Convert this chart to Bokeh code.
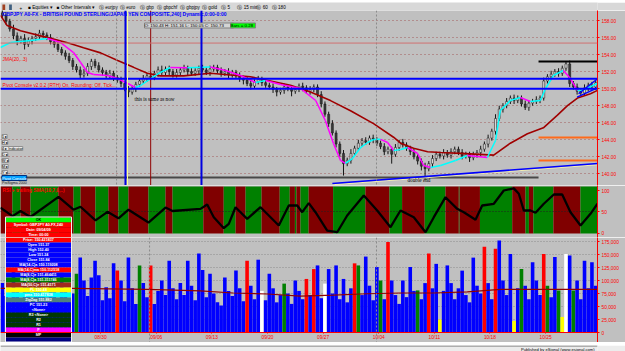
from bokeh.plotting import figure
from bokeh.layouts import column
from bokeh.models import (Range1d, FixedTicker, NumeralTickFormatter, PrintfTickFormatter,
                          Span, Label, ColumnDataSource)
from bokeh.embed import file_html
from bokeh.resources import INLINE

# ---------------------------------------------------------------- data
N_BARS = 161
closes = [158.6,157.9,157.0,156.2,155.6,155.9,155.2,155.6,155.9,156.1,
          156.5,156.3,156.0,155.5,155.2,154.6,154.2,153.8,153.3,152.6,
          152.2,151.6,151.8,152.6,153.2,152.7,152.2,151.9,151.5,151.8,
          151.3,151.0,150.6,150.0,149.6,150.0,150.5,150.9,151.2,151.5,
          151.3,151.8,152.2,151.9,152.3,152.0,151.6,151.9,152.2,152.4,
          152.0,151.8,152.1,152.4,152.2,151.9,152.3,152.5,152.1,151.8,
          152.0,151.6,151.9,151.5,151.2,151.0,150.6,150.3,150.8,151.1,
          150.7,150.4,150.2,149.9,149.6,149.8,150.2,150.0,149.7,149.9,
          150.3,150.1,149.7,149.9,150.2,149.3,148.2,147.0,145.9,144.8,
          143.5,142.4,141.2,141.6,142.4,143.0,143.6,143.9,143.7,144.2,
          144.0,143.6,143.2,142.6,142.9,142.3,143.1,143.7,143.4,143.0,
          142.6,142.0,141.5,140.9,140.6,141.2,141.8,142.3,142.1,142.5,
          142.2,142.6,142.9,142.5,142.1,142.3,141.9,142.2,142.5,142.9,
          143.5,144.2,145.0,146.5,147.6,148.0,148.5,148.9,148.6,148.9,
          148.2,147.8,148.3,148.5,148.7,148.9,150.9,151.4,151.7,152.0,
          151.8,152.4,152.9,150.6,150.2,149.7,149.5,150.1,150.4,150.2,
          150.7]
first_open = 158.9
wick_up = [0.6,0.4,0.3,0.5,0.4,0.3,0.5,0.4,0.3,0.4,
           0.4,0.3,0.3,0.4,0.3,0.4,0.3,0.3,0.4,0.3,
           0.3,0.4,0.5,0.4,0.3,0.3,0.4,0.3,0.3,0.4,
           0.3,0.3,0.4,0.3,0.3,0.4,0.3,0.3,0.4,0.3,
           0.4,0.3,0.4,0.5,0.3,0.4,0.3,0.4,0.3,0.4,
           0.3,0.5,0.3,0.3,0.4,0.3,0.4,0.3,0.3,0.4,
           0.3,0.4,0.3,0.3,0.4,0.3,0.4,0.5,0.3,0.4,
           0.3,0.4,0.3,0.4,0.3,0.3,0.4,0.3,0.4,0.3,
           0.3,0.4,0.3,0.4,0.3,0.3,0.4,0.3,0.3,0.4,
           0.3,0.3,0.4,0.3,0.5,0.3,0.4,0.3,0.4,0.3,
           0.4,0.3,0.3,0.4,0.3,0.3,0.4,0.3,0.4,0.3,
           0.3,0.4,0.3,0.3,0.4,0.3,0.4,0.3,0.3,0.4,
           0.3,0.4,0.3,0.3,0.4,0.3,0.3,0.4,0.3,0.4,
           0.3,0.4,0.3,0.5,0.4,0.3,0.4,0.3,0.4,0.3,
           0.3,0.4,0.3,0.3,0.4,0.3,0.4,0.3,0.4,0.3,
           0.4,0.3,0.3,0.4,0.3,0.4,0.3,0.4,0.3,0.4,
           0.3]
wick_dn = [0.3,0.4,0.3,0.4,0.5,0.3,0.6,0.3,0.4,0.3,
           0.3,0.4,0.3,0.3,0.4,0.3,0.3,0.4,0.3,0.4,
           0.3,0.4,0.3,0.3,0.4,0.3,0.3,0.4,0.3,0.3,
           0.4,0.3,0.4,0.3,0.6,0.3,0.4,0.3,0.3,0.4,
           0.3,0.3,0.4,0.3,0.3,0.4,0.3,0.3,0.4,0.3,
           0.4,0.3,0.3,0.4,0.3,0.3,0.4,0.3,0.3,0.4,
           0.3,0.4,0.3,0.3,0.4,0.5,0.3,0.4,0.3,0.3,
           0.4,0.3,0.3,0.4,0.5,0.3,0.4,0.3,0.6,0.3,
           0.3,0.4,0.3,0.4,0.3,0.3,0.4,0.3,0.4,0.3,
           0.4,0.4,1.4,0.3,0.4,0.3,0.3,0.4,0.3,0.3,
           0.4,0.3,0.3,0.4,0.3,1.1,0.3,0.4,0.3,0.3,
           0.4,0.3,0.4,0.5,1.3,0.3,0.4,0.3,0.3,0.4,
           0.3,0.4,0.3,0.3,0.4,0.3,0.5,0.3,0.3,0.4,
           0.3,0.4,0.3,0.4,0.3,0.4,0.3,0.3,0.4,0.3,
           0.3,0.3,0.4,0.3,0.3,0.4,0.3,0.3,0.4,0.3,
           0.4,0.3,0.3,0.4,0.3,0.4,0.3,0.3,0.4,0.3,
           0.3]

slow_ma_x = [0, 1.8, 5.4, 13.5, 18.1, 22.4, 27.0, 31.6, 35.9, 39.6, 43.1, 49.4, 56.6, 67.4,
             78.2, 83.6, 89.0, 94.4, 100.6, 106.0, 107.9, 111.4, 115.2, 118.7, 124.1, 133.0,
             137.5, 142.1, 146.4, 150.2, 152.9, 155.6, 159.1, 161]
slow_ma_y = [158.6, 157.4, 156.8, 155.9, 155.4, 154.8, 154.2, 153.3, 152.5, 151.8, 151.5, 151.5,
             151.8, 151.4, 150.4, 149.6, 148.6, 147.4, 145.9, 144.3, 143.6, 143.0, 142.6, 142.5,
             142.4, 142.2, 143.6, 144.7, 145.4, 146.9, 148.0, 148.9, 149.4, 149.8]

fast_ma_x = [0, 2.7, 8.1, 12.7, 16.2, 19.7, 21.6, 23.5, 25.1, 28.9, 31.6, 34.3, 36.4, 37.8, 40.5,
             43.1, 45.8, 50.4, 56.6, 60.7, 64.7, 68.8, 71.5, 75.5, 80.9, 85.0, 87.6, 89.8, 91.7,
             93.0, 94.9, 97.1, 99.0, 100.6, 102.5, 104.4, 106.0, 107.9, 109.8, 112.5, 114.1,
             116.0, 118.7, 122.7, 125.9, 131.3, 133.5, 134.8, 137.5, 140.2, 142.9, 145.6, 147.0,
             149.1, 151.8, 153.7, 155.6, 157.2, 161]
fast_ma_y = [154.83, 155.42, 155.65, 155.89, 155.42, 154.24, 153.07, 151.90, 151.66, 151.54,
             151.19, 150.61, 150.14, 150.37, 151.19, 151.90, 152.48, 152.45, 152.55, 152.13,
             151.54, 150.72, 150.96, 150.49, 150.02, 148.61, 146.26, 143.56, 141.57, 141.22,
             141.80, 143.09, 143.68, 144.03, 144.05, 143.68, 142.74, 142.86, 143.09, 142.39,
             140.98, 140.75, 140.98, 141.57, 142.15, 141.92, 143.92, 147.44, 148.61, 148.96,
             148.49, 148.61, 150.02, 151.54, 152.13, 151.19, 149.78, 149.85, 150.61]

pivot_blue = [151.16, 149.98]
level_pink = 155.35
level_grey = 139.57
level_black = 153.19
level_orange = [144.27, 141.57]
levels_split_bar = 145.1
trend_x = [89.5, 161.0]
trend_y = [138.87, 141.22]
wedge_a_x, wedge_a_y = [155.5, 161.0], [149.0, 150.1]
wedge_b_x, wedge_b_y = [155.9, 161.0], [149.4, 151.16]
marker_bars_blue = [33.7, 54.2]
marker_bar_red = 40.5
month_bars = [31.3, 101.4]

rsi_x = [0, 3.24, 5.39, 8.09, 15.64, 19.69, 21.57, 25.62, 28.86, 31.82, 34.52, 39.91, 44.5,
         46.39, 53.94, 55.74, 57.52, 60.22, 61.57, 63.38, 66.53, 70.12, 75.05, 77.75, 80.02,
         81.36, 83.14, 84.95, 88.11, 90.80, 93.50, 97.98, 101.59, 105.18, 107.87, 111.46,
         114.62, 116.86, 120.01, 123.17, 124.95, 128.10, 129.91, 133.04, 135.73, 138.43,
         139.78, 141.13, 142.93, 144.28, 146.52, 149.22, 151.48, 153.72, 156.42, 159.11, 161.0]
rsi_v = [60, 40, 52, 38, 85, 55, 62, 30, 50, 35, 55, 25, 60, 52, 57, 67, 37.5, 11.7, 22, 60.9,
         33.7, 60.9, 18, 64.9, 64.9, 49.2, 70.3, 49.2, 6.3, 2.3, 41.5, 88.3, 53.2, 14.1, 53.2,
         37.5, 2.3, 37.5, 84.3, 57.1, 49.2, 31.4, 64.9, 68.9, 100, 105, 92.3, 53.2, 53.2, 47.8,
         68.9, 90.6, 90.6, 49.2, 18, 45.4, 68.9]
band_edges = [0, 3.2, 5.4, 8.1, 15.6, 19.7, 21.6, 25.6, 29.1, 31.8, 34.5, 39.9, 44.5, 46.4,
              54.7, 60.2, 63.4, 66.1, 70.4, 75.3, 78.0, 79.4, 79.8, 80.9, 83.1, 89.7, 98.4,
              104.9, 108.3, 114.4, 120.0, 123.6, 123.8, 129.3, 138.0, 141.6, 142.5, 143.7,
              149.1, 156.4, 161]
band_first = "down"

volume_k = [95,70,60,120,80,65,130,90,60,110,
            140,75,65,125,95,60,115,85,65,75,
            113,144,100,70,106,138,110,62,87,66,
            133,119,100,60,144,85,55,129,95,68,
            129,55,80,100,72,138,85,64,95,72,
            138,90,62,152,120,68,113,75,58,52,
            106,80,70,119,85,60,138,90,64,140,
            80,62,113,85,58,72,94,75,55,100,
            80,64,103,72,122,129,66,94,122,75,
            129,64,103,58,85,133,129,72,146,90,
            62,126,100,64,174,100,72,55,100,68,
            126,80,81,64,95,152,85,132,25,80,
            129,95,64,85,119,72,58,144,90,75,
            165,95,64,161,177,100,72,151,22,85,
            122,90,64,135,100,72,151,90,68,145,
            81,30,151,148,81,100,64,138,85,135,
            90]
volume_codes = ("BBBBBBBBBB" "BBBBBBBBBB" "GBBBBBBBBB" "BRBBBBBGBB" "RBBBBBBBBB"
                "BBBBBBBBBB" "BBBBBBRBBB" "WBBBBBGBBB" "BBRBRBBWBB" "BBBBBRGBBB"
                "BBGBRBBBBB" "BBGBBRBBYB" "BBBBBBBBBB" "RBBRBBBBYB" "GBBBBBRGBB"
                "GYWBGBBBBB" "B")
vol_ma_x = [0, 18.9, 39.6, 53.9, 62.8, 72.0, 80.9, 89.8, 99.0, 107.9, 116.8, 125.9, 134.8,
            143.7, 152.9, 161]
vol_ma_k = [85, 85, 83, 80, 76, 74, 70, 72, 74.5, 76, 76, 78, 83, 83, 83, 83]

week_ticks = [27, 42, 57, 72, 87, 102, 117, 132, 147]
week_labels = ["08/30", "09/06", "09/13", "09/20", "09/27", "10/04", "10/11", "10/18", "10/25"]
price_ticks = [140, 142, 144, 146, 148, 150, 152, 154, 156, 158]
rsi_ticks = [0, 50, 100]
vol_ticks = [0, 25000, 50000, 75000, 100000, 125000, 150000, 175000]

data_window = [
    ("OK", "#00ff00", "#000000"),
    ("Symbol: GBPJPY A0-FX,240", "#ff0000", "#ffffff"),
    ("Date: 09/04/09", "#ff0000", "#ffffff"),
    ("Time: 00:00", "#ff0000", "#ffffff"),
    ("Price: 150.421837", "#ff0000", "#ffffff"),
    ("Open 151.37", "#0000ff", "#ffffff"),
    ("High 152.40", "#0000ff", "#ffffff"),
    ("Low 151.24", "#0000ff", "#ffffff"),
    ("Close 151.84", "#0000ff", "#ffffff"),
    ("MA(14,C)a 150.119208", "#0000ff", "#ffffff"),
    ("MA(14,C)ma 150.112518", "#ff0000", "#ffffff"),
    ("MA(8,C)e 151.464411", "#0000ff", "#ffffff"),
    ("MA(8,C)a 151.311746", "#008000", "#ffffff"),
    ("MA(50,C)e 151.4171", "#a0281e", "#ffffff"),
    ("PL 150.48", "#ffff00", "#ffffff"),
    ("pma 150.417838", "#00ffff", "#ffffff"),
    ("ZigZag 151.882", "#4f7f7f", "#ffffff"),
    ("PC 151.23", "#0000ff", "#ffffff"),
    ("<None>", "#0000ff", "#ffffff"),
    ("R3 <None>", "#003800", "#ffffff"),
    ("R2", "#003800", "#ffffff"),
    ("R1", "#003800", "#ffffff"),
    ("P", "#ff00ff", "#ffffff"),
    ("MP", "#000000", "#ffffff"),
    ("", "#000080", "#ffffff"),
]

# ---------------------------------------------------------------- geometry helpers
FRAME_W = 597
AXIS_W = 28
BG = "#c0c0c0"
FONT = "Liberation Sans"
RED = "#ff0000"


def bx(px):
    return px * N_BARS / FRAME_W


def price_at(y):
    return 158.0 - (y - 20.0) / 8.52


def rsi_at(y):
    return (232.7 - y) / 0.427


def vol_at(y):
    return (332.0 - y) * 1923.1


xr = Range1d(0, N_BARS)


def panel(height, yr, xloc=None):
    f = figure(width=625, height=height, x_range=xr, y_range=yr, output_backend="svg",
               toolbar_location=None, x_axis_location=xloc, y_axis_location="right",
               min_border_left=0, min_border_right=AXIS_W, min_border_top=0, min_border_bottom=0,
               background_fill_color=BG, border_fill_color=BG, outline_line_color=None)
    f.xgrid.visible = False
    ax = f.yaxis[0]
    ax.axis_line_color = RED
    ax.major_tick_line_color = RED
    ax.minor_tick_line_color = None
    ax.major_tick_out = 2
    ax.major_tick_in = 0
    ax.major_label_standoff = 2
    ax.major_label_text_color = RED
    ax.major_label_text_font = FONT
    ax.major_label_text_font_size = "4.8px"
    return f


def label(f, x, y, text, size="4.8px", color="#000000", style="normal", bg=None, border=None,
          align="left", baseline="middle", font=FONT):
    f.add_layout(Label(x=x, y=y, text=text, text_font_size=size, text_color=color,
                       text_font_style=style, background_fill_color=bg, border_line_color=border,
                       text_align=align, text_baseline=baseline, text_font=font))


# ---------------------------------------------------------------- toolbar
tb = figure(width=625, height=10, x_range=Range1d(0, 625), y_range=Range1d(0, 10),
            output_backend="svg", toolbar_location=None, x_axis_location=None, y_axis_location=None,
            min_border=0, background_fill_color="#d8d8d8", border_fill_color="#d8d8d8",
            outline_line_color=None)
tb.xgrid.visible = False
tb.ygrid.visible = False
for xx, col in [(2, "#a04020"), (9, "#406080")]:
    tb.add_layout(Label(x=xx, y=5, text="  ", text_font_size="5px", background_fill_color=col,
                        text_baseline="middle"))
tool_items = [(20, "+"), (29, "\u25a0 Equities \u25be"), (59, "\u25a0 Other Intervals \u25be"),
              (103, "\u24c8 eurjpy"), (125, "\u24c8 euro"), (146, "\u24c8 gbp"), (164, "\u24c8 gbpchf"),
              (188, "\u24c8 gbpjpy"), (211, "\u24c8 gold"), (231, "\u24c8 5"), (248, "\u24c8 15 min"),
              (268, "\u24c8 60"), (284, "\u24c8 180")]
for xx, t in tool_items:
    tb.add_layout(Label(x=xx, y=5, text=t, text_font_size="4.6px", text_color="#000000",
                        text_baseline="middle", text_font=FONT))

# ---------------------------------------------------------------- price panel
pp = panel(175, Range1d(price_at(185), price_at(10)))
pp.yaxis.ticker = FixedTicker(ticks=price_ticks)
pp.yaxis.formatter = PrintfTickFormatter(format="%.2f")
pp.ygrid.ticker = FixedTicker(ticks=price_ticks)
pp.ygrid.grid_line_color = "#a05050"
pp.ygrid.grid_line_dash = "1 3"
pp.ygrid.grid_line_alpha = 0.9

for b in month_bars:
    pp.add_layout(Span(location=b, dimension="height", line_color="#8a8a8a", line_dash="2 2",
                       line_width=1))
pp.add_layout(Span(location=marker_bar_red, dimension="height", line_color="#900000", line_width=1))
pp.add_layout(Span(location=level_pink, dimension="width", line_color="#d07070", line_width=1))

opens = [first_open] + closes[:-1]
tops = [max(o, c) for o, c in zip(opens, closes)]
bots = [min(o, c) for o, c in zip(opens, closes)]
csrc = ColumnDataSource(dict(
    x=[i + 0.5 for i in range(N_BARS)], top=tops, bottom=bots,
    high=[t + w for t, w in zip(tops, wick_up)], low=[b - w for b, w in zip(bots, wick_dn)],
    fill=["#d8d8d8" if c >= o else "#3a3a3a" for o, c in zip(opens, closes)]))
pp.segment(x0="x", y0="low", x1="x", y1="high", source=csrc, line_color="#151515", line_width=1)
pp.vbar(x="x", top="top", bottom="bottom", width=0.55, source=csrc, fill_color="fill",
        line_color="#151515", line_width=0.5)

pp.line(slow_ma_x, slow_ma_y, line_color="#a00000", line_width=1.6)
fx0, fy0, fx1, fy1, fcol = [], [], [], [], []
for i in range(len(fast_ma_x) - 1):
    fx0.append(fast_ma_x[i]); fy0.append(fast_ma_y[i])
    fx1.append(fast_ma_x[i + 1]); fy1.append(fast_ma_y[i + 1])
    fcol.append("#00ffff" if fast_ma_y[i + 1] > fast_ma_y[i] else "#ff00ff")
pp.segment(x0=fx0, y0=fy0, x1=fx1, y1=fy1, line_color=fcol, line_width=1.5)

for lv in pivot_blue:
    pp.add_layout(Span(location=lv, dimension="width", line_color="#0000ff", line_width=2))
pp.segment(x0=[0], y0=[level_grey], x1=[levels_split_bar], y1=[level_grey],
           line_color="#484848", line_width=2)
pp.segment(x0=[levels_split_bar], y0=[level_black], x1=[N_BARS], y1=[level_black],
           line_color="#000000", line_width=2)
pp.segment(x0=[levels_split_bar] * 2, y0=level_orange, x1=[N_BARS] * 2, y1=level_orange,
           line_color="#ff6a1a", line_width=2)
pp.line([trend_x[0], trend_x[1]], [trend_y[0] - 0.15, trend_y[1] - 0.15], line_color="#f4f0b0",
        line_width=1)
pp.line(trend_x, trend_y, line_color="#0000ff", line_width=1.6)
pp.line(wedge_a_x, wedge_a_y, line_color="#0000ff", line_width=1.4)
pp.line(wedge_b_x, wedge_b_y, line_color="#0000ff", line_width=1.4)

pp.add_layout(Span(location=bx(127), dimension="height", line_color="#ffff90", line_width=1))
for b in marker_bars_blue:
    pp.add_layout(Span(location=b, dimension="height", line_color="#0000e0", line_width=2))

label(pp, bx(2), price_at(13.5),
      "GBPJPY A0-FX - BRITISH POUND STERLING/JAPAN YEN COMPOSITE,240] Dynamic,0:00-0:00",
      size="5px", color="#0000ff", style="bold")
label(pp, bx(2), price_at(59), "JMA(20,..3)", size="4.8px", color=RED)
label(pp, bx(2), price_at(85), "Pivot Console v2.0.2 (RTH) On, Rounding: Off, Tick...",
      size="4.8px", color=RED)
label(pp, bx(134), price_at(98), "this is same as now", size="5.2px", font="Liberation Serif")
label(pp, bx(407), price_at(179.5), "double end", size="5.2px", font="Liberation Serif")
label(pp, bx(144), price_at(25), " O: 150.43   H: 151.16   L: 150.05   C: 150.73 ", size="4.4px",
      bg="#d4d4d4", border="#808080")
label(pp, bx(230), price_at(25), " Bars = 0.28 ", size="4.4px", bg="#00ff00", border="#808080")
for i, t in enumerate(["1 \u25b8", "H \u25b8", "4 \u25b8 Indicator", "D \u25b8", "W \u25b8",
                       "M \u25b8", "Y \u25b8"]):
    label(pp, bx(1.5), price_at(136 + 6 * i), t, size="3.8px", bg="#e8e8e8", border="#909090")
label(pp, bx(1.5), price_at(177.5), "Pivot Console", size="4px", color="#ffffff", bg="#00a0ff",
      border="#003080")
label(pp, bx(1.5), price_at(182.5), "ProSigma 2000", size="3.6px", color="#202020")
label(pp, bx(599.5), pivot_blue[0] - 0.45, "150.73", size="4.6px", color="#ffffff", bg="#d00000")
label(pp, bx(599.5), pivot_blue[1] - 0.2, "149.73", size="4.6px", color="#ffffff", bg="#a00000")

# ---------------------------------------------------------------- RSI panel
rp = panel(52, Range1d(rsi_at(237), rsi_at(185)))
rp.yaxis.ticker = FixedTicker(ticks=rsi_ticks)
rp.ygrid.ticker = FixedTicker(ticks=[50])
rp.ygrid.grid_line_color = "#202020"
rp.ygrid.grid_line_dash = "1 2"
band_cols = []
for i in range(len(band_edges) - 1):
    is_down = (i % 2 == 0) == (band_first == "down")
    band_cols.append("#800000" if is_down else "#008000")
rp.quad(left=band_edges[:-1], right=band_edges[1:], bottom=rsi_at(233), top=rsi_at(186),
        fill_color=band_cols, line_color=None, level="underlay")
rp.line(rsi_x, rsi_v, line_color="#000000", line_width=2.3)
label(rp, bx(2), rsi_at(189.5), "RSI + trailing SMA(10,7,0,..)", size="4.8px", color=RED,
      style="bold")
label(rp, bx(599.5), rsi_at(207), "61.43", size="4.6px", color="#ffffff", bg="#000000")

# ---------------------------------------------------------------- volume panel
vp = panel(105, Range1d(vol_at(342), vol_at(237)), xloc="below")
vp.yaxis.ticker = FixedTicker(ticks=vol_ticks)
vp.yaxis.formatter = NumeralTickFormatter(format="0,0")
vp.ygrid.ticker = FixedTicker(ticks=vol_ticks[1:])
vp.ygrid.grid_line_color = "#8c8c8c"
vp.ygrid.grid_line_dash = "1 2"
xa = vp.xaxis[0]
xa.fixed_location = 0
xa.ticker = FixedTicker(ticks=week_ticks)
xa.major_label_overrides = {t: l for t, l in zip(week_ticks, week_labels)}
xa.axis_line_color = RED
xa.major_tick_line_color = RED
xa.minor_tick_line_color = None
xa.major_tick_out = 1
xa.major_tick_in = 0
xa.major_label_standoff = 1
xa.major_label_text_color = RED
xa.major_label_text_font = FONT
xa.major_label_text_font_size = "4.8px"
for b in [40.2, month_bars[1]]:
    vp.add_layout(Span(location=b, dimension="height", line_color="#8a8a8a", line_dash="2 2",
                       line_width=1))
code_col = {"B": "#0000ff", "R": "#ff0000", "G": "#008000", "Y": "#ffff00", "W": "#ffffff"}
vp.vbar(x=[i + 0.5 for i in range(N_BARS)], top=[v * 1000 for v in volume_k], bottom=0,
        width=0.97, fill_color=[code_col[c] for c in volume_codes], line_color=None)
vp.line(vol_ma_x, [v * 1000 for v in vol_ma_k], line_color="#900000", line_width=1.2)
label(vp, bx(599.5), vol_at(288), "84,175.36", size="4.6px", color="#ffffff", bg="#a02020")
label(vp, bx(599.5), vol_at(297), "73,661", size="4.6px", color="#ffffff", bg="#2040ff")

# ---------------------------------------------------------------- data window (spans RSI + volume)
DW_L, DW_R, DW_TOP, DW_ROW = bx(5), bx(71), 217, 5
for i, (txt, bgc, fgc) in enumerate(data_window):
    y_top = DW_TOP + DW_ROW * i
    y_mid = y_top + DW_ROW / 2
    if y_top < 237:
        f, conv = rp, rsi_at
    else:
        f, conv = vp, vol_at
    f.quad(left=[DW_L], right=[DW_R], top=[conv(y_top)], bottom=[conv(y_top + DW_ROW)],
           fill_color=bgc, line_color=None)
    if txt:
        label(f, (DW_L + DW_R) / 2, conv(y_mid), txt, size="3.7px", color=fgc, align="center",
              style="bold")
rp.quad(left=[DW_L], right=[DW_R], top=[rsi_at(216.5)], bottom=[rsi_at(240)], fill_color=None,
        line_color="#f0f0f0", line_width=1)
vp.quad(left=[DW_L], right=[DW_R], top=[vol_at(230)], bottom=[vol_at(341.5)], fill_color=None,
        line_color="#f0f0f0", line_width=1)

# ---------------------------------------------------------------- status bar
sb = figure(width=625, height=9, x_range=Range1d(0, 625), y_range=Range1d(0, 9),
            output_backend="svg", toolbar_location=None, x_axis_location=None, y_axis_location=None,
            min_border=0, background_fill_color="#ececec", border_fill_color="#ececec",
            outline_line_color=None)
sb.xgrid.visible = False
sb.ygrid.visible = False
sb.add_layout(Span(location=8.5, dimension="width", line_color="#707070", line_width=1))
sb.add_layout(Label(x=622, y=4.6, text="Published by eSignal (www.esignal.com)",
                    text_font_size="4.1px", text_color="#000000", text_align="right",
                    text_baseline="middle", text_font=FONT))

layout = column(tb, pp, rp, vp, sb, spacing=0)
open("out.html", "w").write(file_html(layout, INLINE))
